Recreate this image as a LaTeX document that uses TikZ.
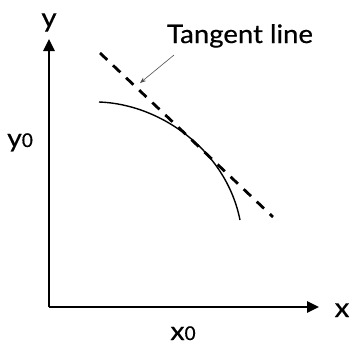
\documentclass[tikz,border=0pt]{standalone}
\usepackage{fontspec}
\setmainfont{Lato}
\newfontfamily\lblfont{Lato}[UprightFeatures={FakeBold=0.5}]
\usetikzlibrary{arrows.meta}
\begin{document}
\begin{tikzpicture}[x=1pt,y=-1pt,
  axis/.style={line width=2.6pt,-{Triangle[length=12pt,width=11pt]}},
  curve/.style={line width=1.4pt},
  tangent/.style={line width=2.8pt,dash pattern=on 10pt off 8pt},
  pointer/.style={line width=0.6pt,draw=black!70,-{Stealth[length=6pt,width=4.5pt]}},
  lbl/.style={inner sep=0pt,font=\lblfont\fontsize{27}{30}\selectfont},
  sublbl/.style={inner sep=0pt,font=\lblfont\fontsize{26}{30}\selectfont}]
\useasboundingbox (0,0) rectangle (350,346);
\coordinate (O) at (49,307);
\coordinate (ytip) at (49,39);
\coordinate (xtip) at (319,307);
\draw[axis] (O) -- (ytip);
\draw[axis] (O) -- (xtip);
\node[lbl,anchor=base] (ylab) at (49,27) {\scalebox{1.1}[1]{y}};
\node[lbl,anchor=base] (xlab) at (342,317) {\scalebox{1.1}[1]{x}};
\node[sublbl,anchor=base] (y0) at (20,147) {\scalebox{1.1}[1]{y}{\fontsize{19}{22}\selectfont 0}};
\node[sublbl,anchor=base] (x0) at (183,340) {\scalebox{1.1}[1]{x}{\fontsize{19}{22}\selectfont 0}};
\node[inner sep=0pt,anchor=base,font=\lblfont\fontsize{25.5}{30}\selectfont] (tl) at (240,43) {\scalebox{1.08}[1]{Tangent line}};
\coordinate (ta) at (100,53);
\coordinate (tb) at (273,217);
\draw[tangent] (ta) -- (tb);
\coordinate (cs) at (99,102);
\coordinate (ce) at (240,220);
\draw[curve] (cs) .. controls (160,104) and (226,150) .. (ce);
\coordinate (ps) at (174,55);
\coordinate (pe) at (140,83);
\draw[pointer] (ps) -- (pe);
\end{tikzpicture}
\end{document}
